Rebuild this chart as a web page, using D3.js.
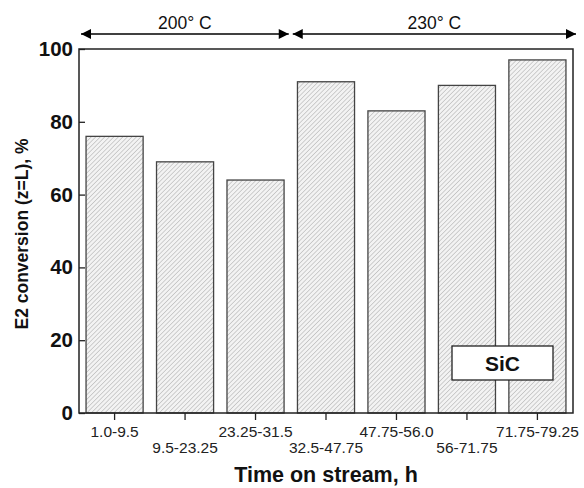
<!DOCTYPE html>
<html>
<head>
<meta charset="utf-8">
<script src="https://cdn.jsdelivr.net/npm/d3@7"></script>
<style>
	body { margin: 0; background: #fff; }
	svg { display: block; font-family: "Liberation Sans", Arial, sans-serif; }
</style>
</head>
<body>
<div id="chart"></div>
<script>
// chart data
var categories = ["1.0-9.5", "9.5-23.25", "23.25-31.5", "32.5-47.75", "47.75-56.0", "56-71.75", "71.75-79.25"],
	conversion = [76, 69, 64, 91, 83, 90, 97],
	yTicks = [0, 20, 40, 60, 80, 100],
	tempLabels = ["200° C", "230° C"],
	tempGroups = [[0, 2], [3, 6]],	// first / last category index under each temperature
	legendLabel = "SiC";

// viz params
var w = 584,
	h = 488,
	margin = {top: 49, right: 11, bottom: 75, left: 79},
	innerW = w - margin.left - margin.right,
	innerH = h - margin.top - margin.bottom,
	ink = "#222";

var svg = d3.select("#chart").append("svg")
	.attr("width", w)
	.attr("height", h);

// hatch pattern for the bars
var defs = svg.append("defs");
defs.append("pattern")
	.attr("id", "hatch")
	.attr("patternUnits", "userSpaceOnUse")
	.attr("width", 3.2)
	.attr("height", 3.2)
	.attr("patternTransform", "rotate(45)")
	.call(function(p) {
		p.append("rect").attr("width", 3.2).attr("height", 3.2).attr("fill", "#f3f3f3");
		p.append("line")
			.attr("x1", 0).attr("y1", 0)
			.attr("x2", 0).attr("y2", 3.2)
			.attr("stroke", "#a0a0a0")
			.attr("stroke-width", 0.9);
	});
defs.append("marker")
	.attr("id", "head")
	.attr("viewBox", "0 0 10 10")
	.attr("refX", 10)
	.attr("refY", 5)
	.attr("markerUnits", "userSpaceOnUse")
	.attr("markerWidth", 11)
	.attr("markerHeight", 10)
	.attr("orient", "auto-start-reverse")
	.append("path")
	.attr("d", "M0,0L10,5L0,10Z")
	.attr("fill", "#000");

var g = svg.append("g")
	.attr("transform", "translate(" + margin.left + "," + margin.top + ")");

var x = d3.scaleBand()
	.domain(categories)
	.range([0, innerW])
	.paddingInner(0.19)
	.paddingOuter(0.1);

var y = d3.scaleLinear()
	.domain([0, 100])
	.range([innerH, 0]);

// bars
g.selectAll("rect.bar")
	.data(conversion)
	.enter()
	.append("rect")
	.attr("class", "bar")
	.attr("x", function(d, i) { return x(categories[i]); })
	.attr("y", function(d) { return y(d); })
	.attr("width", x.bandwidth())
	.attr("height", function(d) { return y(0) - y(d); })
	.attr("fill", "url(#hatch)")
	.attr("stroke", "#444")
	.attr("stroke-width", 1.3);

// x axis, labels staggered on two rows
var xAxis = g.append("g")
	.attr("transform", "translate(0," + innerH + ")")
	.call(d3.axisBottom(x).tickSizeInner(7).tickSizeOuter(0).tickPadding(6));
xAxis.select(".domain").remove();
xAxis.selectAll(".tick line").attr("stroke", ink).attr("stroke-width", 1.3);
xAxis.selectAll(".tick text")
	.attr("fill", ink)
	.attr("font-size", 15.5)
	.attr("font-family", "Liberation Sans, Arial, sans-serif")
	.attr("dy", function(d, i) { return i % 2 ? "1.74em" : "0.71em"; });

// y axis, ticks pointing inward
var yAxis = g.append("g")
	.call(d3.axisLeft(y).tickValues(yTicks).tickSizeInner(-6).tickSizeOuter(0).tickPadding(6));
yAxis.select(".domain").remove();
yAxis.selectAll(".tick line").attr("stroke", ink).attr("stroke-width", 1.3);
yAxis.selectAll(".tick text")
	.attr("fill", "#111")
	.attr("font-size", 20.5)
	.attr("font-weight", "bold")
	.attr("font-family", "Liberation Sans, Arial, sans-serif");

// frame
g.append("rect")
	.attr("width", innerW)
	.attr("height", innerH)
	.attr("fill", "none")
	.attr("stroke", ink)
	.attr("stroke-width", 1.5);

// axis titles
svg.append("text")
	.attr("x", margin.left + innerW / 2)
	.attr("y", h - 6)
	.attr("text-anchor", "middle")
	.attr("font-size", 21.5)
	.attr("font-weight", "bold")
	.attr("fill", "#111")
	.text("Time on stream, h");

svg.append("text")
	.attr("transform", "translate(28," + (margin.top + innerH / 2 + 3) + ") rotate(-90)")
	.attr("text-anchor", "middle")
	.attr("font-size", 17.5)
	.attr("font-weight", "bold")
	.attr("fill", "#111")
	.text("E2 conversion (z=L), %");

// temperature arrows above the plot
var arrowY = -15;
var split = function(i) {
	// middle of the gap between category i and i+1
	return (x(categories[i]) + x.bandwidth() + x(categories[i + 1])) / 2;
};
var tempSpans = tempGroups.map(function(grp, k) {
	var x0 = grp[0] == 0 ? 2 : split(grp[0] - 1) + 2,
		x1 = grp[1] == categories.length - 1 ? innerW + 3 : split(grp[1]) - 2;
	return {label: tempLabels[k], x0: x0, x1: x1};
});

var temps = g.selectAll("g.temp")
	.data(tempSpans)
	.enter()
	.append("g")
	.attr("class", "temp");
temps.append("line")
	.attr("x1", function(d) { return d.x0; })
	.attr("x2", function(d) { return d.x1; })
	.attr("y1", arrowY)
	.attr("y2", arrowY)
	.attr("stroke", "#000")
	.attr("stroke-width", 1.5)
	.attr("marker-start", "url(#head)")
	.attr("marker-end", "url(#head)");
temps.append("text")
	.attr("x", function(d) { return (d.x0 + d.x1) / 2; })
	.attr("y", arrowY - 5)
	.attr("text-anchor", "middle")
	.attr("font-size", 17.5)
	.attr("fill", "#111")
	.text(function(d) { return d.label; });

// legend box
var legend = g.append("g")
	.attr("transform", "translate(" + (innerW - 121) + "," + (innerH - 67) + ")");
legend.append("rect")
	.attr("width", 101)
	.attr("height", 34)
	.attr("fill", "#fff")
	.attr("stroke", ink)
	.attr("stroke-width", 1.3);
legend.append("text")
	.attr("x", 50.5)
	.attr("y", 25)
	.attr("text-anchor", "middle")
	.attr("font-size", 21)
	.attr("font-weight", "bold")
	.attr("fill", "#111")
	.text(legendLabel);
</script>
</body>
</html>
